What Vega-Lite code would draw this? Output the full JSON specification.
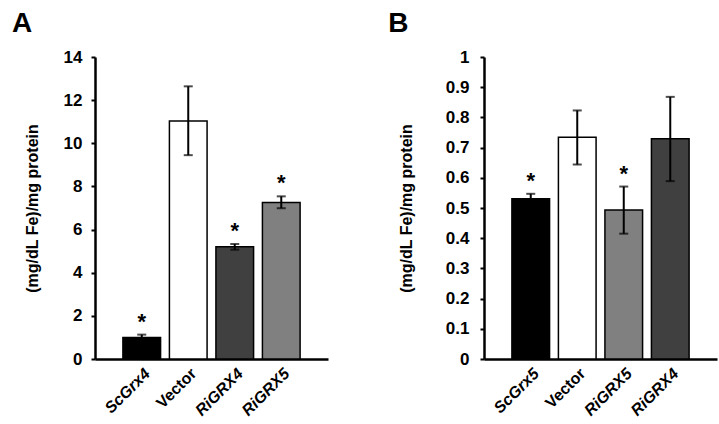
{
  "$schema": "https://vega.github.io/schema/vega-lite/v6.json",
  "background": "white",
  "padding": {"left": 12, "top": 10, "right": 5, "bottom": 5},
  "spacing": 60,
  "config": {
    "view": {"stroke": null},
    "font": "Liberation Sans",
    "axis": {
      "labelFont": "Liberation Sans", "labelFontWeight": "bold", "labelFontSize": 17, "labelColor": "black",
      "titleFont": "Liberation Sans", "titleFontWeight": "bold", "titleFontSize": 16, "titleColor": "black",
      "domainColor": "black", "domainWidth": 2.5, "tickColor": "black", "tickWidth": 2, "grid": false, "labelOverlap": false
    },
    "title": {"font": "Liberation Sans", "fontSize": 28, "fontWeight": "bold", "color": "black", "anchor": "start", "frame": "bounds"}
  },
  "hconcat": [
    {
      "title": {"text": "A", "dx": -12, "offset": 10},
      "width": 233, "height": 302,
      "data": {"values": [
        {"strain": "ScGrx4", "value": 1.0, "lo": 0.88, "hi": 1.13, "sig": "*"},
        {"strain": "Vector", "value": 11.03, "lo": 9.45, "hi": 12.64, "sig": ""},
        {"strain": "RiGRX4", "value": 5.2, "lo": 5.07, "hi": 5.33, "sig": "*"},
        {"strain": "RiGRX5", "value": 7.26, "lo": 6.99, "hi": 7.54, "sig": "*"}
      ]},
      "encoding": {
        "x": {"field": "strain", "type": "nominal", "sort": null,
          "scale": {"paddingInner": 0.19, "paddingOuter": 0.6},
          "axis": {"title": null, "labelAngle": -45, "ticks": false, "labelPadding": 6, "labelFontSize": 16,
            "labelFontStyle": {"condition": {"test": "datum.value === 'Vector'", "value": "normal"}, "value": "italic"}}}
      },
      "layer": [
        {"mark": {"type": "bar", "stroke": "black", "strokeWidth": 1.5},
         "encoding": {
           "y": {"field": "value", "type": "quantitative", "scale": {"domain": [0, 14], "nice": false},
             "axis": {"title": "(mg/dL Fe)/mg protein", "values": [0, 2, 4, 6, 8, 10, 12, 14], "tickSize": 4, "labelPadding": 9, "titlePadding": 23}},
           "fill": {"field": "strain", "type": "nominal", "legend": null,
             "scale": {"domain": ["ScGrx4", "Vector", "RiGRX4", "RiGRX5"], "range": ["#000000", "#ffffff", "#404040", "#808080"]}}
         }},
        {"mark": {"type": "rule", "color": "black", "strokeWidth": 2},
         "encoding": {"y": {"field": "lo", "type": "quantitative",
             "axis": {"title": "(mg/dL Fe)/mg protein", "values": [0, 2, 4, 6, 8, 10, 12, 14], "tickSize": 4, "labelPadding": 9, "titlePadding": 23}}, "y2": {"field": "hi"}}},
        {"mark": {"type": "tick", "color": "black", "size": 9, "thickness": 2},
         "encoding": {"y": {"field": "lo", "type": "quantitative",
             "axis": {"title": "(mg/dL Fe)/mg protein", "values": [0, 2, 4, 6, 8, 10, 12, 14], "tickSize": 4, "labelPadding": 9, "titlePadding": 23}}}},
        {"mark": {"type": "tick", "color": "black", "size": 9, "thickness": 2},
         "encoding": {"y": {"field": "hi", "type": "quantitative",
             "axis": {"title": "(mg/dL Fe)/mg protein", "values": [0, 2, 4, 6, 8, 10, 12, 14], "tickSize": 4, "labelPadding": 9, "titlePadding": 23}}}},
        {"mark": {"type": "text", "fontSize": 22, "fontWeight": "bold", "baseline": "alphabetic", "dy": -6, "color": "black"},
         "encoding": {"y": {"field": "hi", "type": "quantitative",
             "axis": {"title": "(mg/dL Fe)/mg protein", "values": [0, 2, 4, 6, 8, 10, 12, 14], "tickSize": 4, "labelPadding": 9, "titlePadding": 23}}, "text": {"field": "sig"}}}
      ]
    },
    {
      "title": {"text": "B", "dx": -10, "offset": 10},
      "width": 233, "height": 302,
      "data": {"values": [
        {"strain": "ScGrx5", "value": 0.531, "lo": 0.515, "hi": 0.547, "sig": "*"},
        {"strain": "Vector", "value": 0.734, "lo": 0.644, "hi": 0.823, "sig": ""},
        {"strain": "RiGRX5", "value": 0.493, "lo": 0.415, "hi": 0.571, "sig": "*"},
        {"strain": "RiGRX4", "value": 0.729, "lo": 0.589, "hi": 0.868, "sig": ""}
      ]},
      "encoding": {
        "x": {"field": "strain", "type": "nominal", "sort": null,
          "scale": {"paddingInner": 0.19, "paddingOuter": 0.6},
          "axis": {"title": null, "labelAngle": -45, "ticks": false, "labelPadding": 6, "labelFontSize": 16,
            "labelFontStyle": {"condition": {"test": "datum.value === 'Vector'", "value": "normal"}, "value": "italic"}}}
      },
      "layer": [
        {"mark": {"type": "bar", "stroke": "black", "strokeWidth": 1.5},
         "encoding": {
           "y": {"field": "value", "type": "quantitative", "scale": {"domain": [0, 1], "nice": false},
             "axis": {"title": "(mg/dL Fe)/mg protein", "values": [0, 0.1, 0.2, 0.3, 0.4, 0.5, 0.6, 0.7, 0.8, 0.9, 1], "format": ".1~f", "tickSize": 4, "labelPadding": 11, "titlePadding": 31}},
           "fill": {"field": "strain", "type": "nominal", "legend": null,
             "scale": {"domain": ["ScGrx5", "Vector", "RiGRX5", "RiGRX4"], "range": ["#000000", "#ffffff", "#808080", "#404040"]}}
         }},
        {"mark": {"type": "rule", "color": "black", "strokeWidth": 2},
         "encoding": {"y": {"field": "lo", "type": "quantitative",
             "axis": {"title": "(mg/dL Fe)/mg protein", "values": [0, 0.1, 0.2, 0.3, 0.4, 0.5, 0.6, 0.7, 0.8, 0.9, 1], "format": ".1~f", "tickSize": 4, "labelPadding": 11, "titlePadding": 31}}, "y2": {"field": "hi"}}},
        {"mark": {"type": "tick", "color": "black", "size": 9, "thickness": 2},
         "encoding": {"y": {"field": "lo", "type": "quantitative",
             "axis": {"title": "(mg/dL Fe)/mg protein", "values": [0, 0.1, 0.2, 0.3, 0.4, 0.5, 0.6, 0.7, 0.8, 0.9, 1], "format": ".1~f", "tickSize": 4, "labelPadding": 11, "titlePadding": 31}}}},
        {"mark": {"type": "tick", "color": "black", "size": 9, "thickness": 2},
         "encoding": {"y": {"field": "hi", "type": "quantitative",
             "axis": {"title": "(mg/dL Fe)/mg protein", "values": [0, 0.1, 0.2, 0.3, 0.4, 0.5, 0.6, 0.7, 0.8, 0.9, 1], "format": ".1~f", "tickSize": 4, "labelPadding": 11, "titlePadding": 31}}}},
        {"mark": {"type": "text", "fontSize": 22, "fontWeight": "bold", "baseline": "alphabetic", "dy": -6, "color": "black"},
         "encoding": {"y": {"field": "hi", "type": "quantitative",
             "axis": {"title": "(mg/dL Fe)/mg protein", "values": [0, 0.1, 0.2, 0.3, 0.4, 0.5, 0.6, 0.7, 0.8, 0.9, 1], "format": ".1~f", "tickSize": 4, "labelPadding": 11, "titlePadding": 31}}, "text": {"field": "sig"}}}
      ]
    }
  ],
  "resolve": {"scale": {"fill": "independent", "x": "independent", "y": "independent"}}
}
